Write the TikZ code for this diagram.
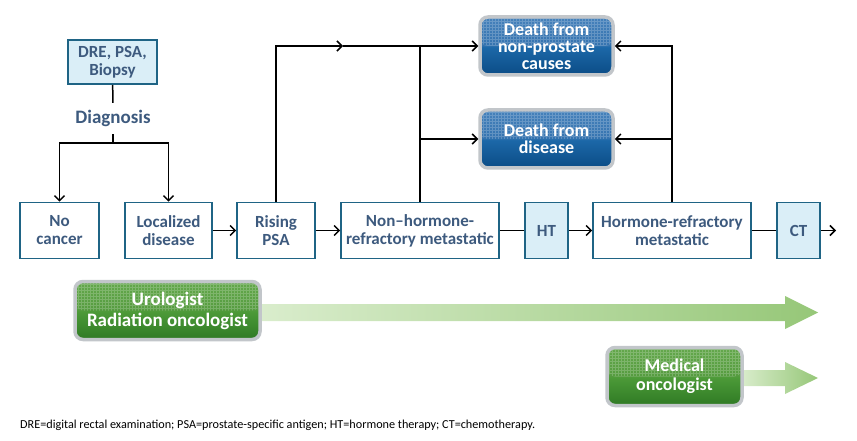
\documentclass[tikz,border=0pt]{standalone}
\usepackage{fontspec}
\setmainfont{Carlito}
\usetikzlibrary{arrows.meta}
\definecolor{boxline}{HTML}{1F6485}
\definecolor{boxtext}{HTML}{3D5A7E}
\definecolor{boxfill}{HTML}{DAEEF7}
\definecolor{rim}{HTML}{C2C6CA}
\definecolor{bluebot}{HTML}{0B4C86}
\definecolor{bluemid}{HTML}{1C68A8}
\definecolor{bluehi}{HTML}{3674B0}
\definecolor{bluetop}{HTML}{4682BB}
\definecolor{greenbot}{HTML}{2F7A24}
\definecolor{greenmid}{HTML}{4C9A38}
\definecolor{greenhi}{HTML}{569C40}
\definecolor{greentop}{HTML}{64A84C}
\definecolor{arrowpale}{HTML}{DAEDCD}
\definecolor{arrowdeep}{HTML}{96C778}
\pgfdeclareverticalshading{blueglow}{100bp}{color(0bp)=(bluebot); color(25bp)=(bluebot);
  color(49bp)=(bluemid); color(51bp)=(bluehi); color(75bp)=(bluetop); color(100bp)=(bluetop)}
\pgfdeclareverticalshading{greenglow}{100bp}{color(0bp)=(greenbot); color(25bp)=(greenbot);
  color(49bp)=(greenmid); color(51bp)=(greenhi); color(75bp)=(greentop); color(100bp)=(greentop)}
\begin{document}
\begin{tikzpicture}[x=1pt,y=-1pt,
  stage/.style={draw=boxline,line width=1.6pt,fill=white,text=boxtext,align=center,
    font=\bfseries\fontsize{17}{18}\selectfont,minimum height=56pt,inner sep=0pt},
  test/.style={stage,fill=boxfill},
  glossy/.style={draw=rim,line width=3.5pt,rounded corners=8pt,text=white,align=center,
    inner sep=0pt,path picture={
      \clip (path picture bounding box.west) rectangle (path picture bounding box.north east);
      \draw[white,opacity=.2,line width=.35pt,step=3pt]
        (path picture bounding box.south west) grid (path picture bounding box.north east);}},
  outcome/.style={glossy,shading=blueglow,font=\bfseries\fontsize{18}{17}\selectfont,
    minimum width=133pt,minimum height=58pt},
  doctor/.style={glossy,shading=greenglow,minimum height=58pt},
  link/.style={line width=1.5pt,-{Straight Barb[length=5pt,width=10pt]}},
  plain/.style={line width=1.5pt}]
\useasboundingbox (0,0) rectangle (857,441);
% stages
\node[test,minimum width=89pt,minimum height=44pt] (dre) at (112.5,62) {DRE, PSA,\\Biopsy};
\node[text=boxtext,font=\bfseries\fontsize{19}{20}\selectfont,minimum height=31pt,inner sep=0pt]
  (diag) at (113,118.5) {Diagnosis};
\node[stage,minimum width=79pt] (none) at (59.5,230.5) {No\\cancer};
\node[stage,minimum width=87pt] (local) at (168.5,230.5) {Localized\\disease};
\node[stage,minimum width=78pt] (rising) at (276,230.5) {Rising\\PSA};
\node[stage,minimum width=158pt] (nonhr) at (420,230.5) {Non--hormone-\\refractory metastatic};
\node[test,minimum width=43pt] (ht) at (546.5,230.5) {HT};
\node[stage,minimum width=158pt] (hr) at (672,230.5) {Hormone-refractory\\metastatic};
\node[test,minimum width=43pt] (ct) at (798.5,230.5) {CT};
\coordinate (out) at (836,230.5);
% outcomes
\node[outcome] (death1) at (546.5,46) {Death from\\non-prostate\\causes};
\node[outcome] (death2) at (546.5,139) {Death from\\disease};
\coordinate (turn) at (343,46);
% connectors
\draw[plain] (dre) -- (diag);
\draw[plain] (diag.south) -- ++(0,9) coordinate (split);
\draw[link] (split) -| (none.north);
\draw[link] (split) -| (local.north);
\draw[link] (local) -- (rising);
\draw[link] (rising) -- (nonhr);
\draw[plain] (nonhr) -- (ht);
\draw[link] (ht) -- (hr);
\draw[plain] (hr) -- (ct);
\draw[link] (ct) -- (out);
\draw[link] (rising.north) |- (turn);
\draw[link] (turn) -- (death1.west);
\draw[plain] (nonhr.north) -- (nonhr.north |- death1.west);
\draw[link] (nonhr.north |- death2.west) -- (death2.west);
\draw[link] (hr.north) |- (death1.east);
\draw[link] (hr.north |- death2.east) -- (death2.east);
% specialists
\shade[left color=arrowpale,right color=arrowdeep]
  (255,304) -- (785,304) -- (785,296) -- (818,312.5) -- (785,329) -- (785,321) -- (255,321) -- cycle;
\shade[left color=arrowpale,right color=arrowdeep]
  (740,370) -- (785,370) -- (785,362) -- (818,378) -- (785,394) -- (785,386) -- (740,386) -- cycle;
\node[doctor,minimum width=185pt,font=\bfseries\fontsize{19}{21}\selectfont] (uro)
  at (167.5,310.5) {Urologist\\Radiation oncologist};
\node[doctor,minimum width=135pt,font=\bfseries\fontsize{18}{19}\selectfont] (med)
  at (674.5,376.5) {Medical\\oncologist};
% note
\node[anchor=west,inner sep=0pt,font=\fontsize{12.2}{14}\selectfont] (note) at (20,425)
  {DRE=digital rectal examination; PSA=prostate-specific antigen; HT=hormone therapy; CT=chemotherapy.};
\end{tikzpicture}
\end{document}
